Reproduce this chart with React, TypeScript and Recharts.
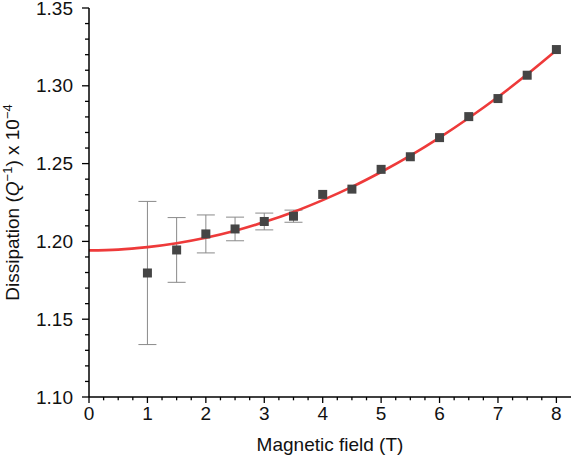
import React from "react";
import {
  ComposedChart,
  Line,
  Scatter,
  ErrorBar,
  XAxis,
  YAxis,
} from "recharts";

// measured points
const fieldT = [1, 1.5, 2, 2.5, 3, 3.5, 4, 4.5, 5, 5.5, 6, 6.5, 7, 7.5, 8];
const dissipation = [
  1.1797, 1.1945, 1.2048, 1.208, 1.2128, 1.2162, 1.2302, 1.2336, 1.2463,
  1.2544, 1.2667, 1.2802, 1.2918, 1.3068, 1.3233,
];
// error bars above 3.5 T are hidden behind the markers
const dissipationErr = [
  0.046, 0.0208, 0.0122, 0.0076, 0.0054, 0.0039, null, null, null, null,
  null, null, null, null, null,
];

// fit curve
const fitT = [0, 0.5, 1, 1.5, 2, 2.5, 3, 3.5, 4, 4.5, 5, 5.5, 6, 6.5, 7, 7.5, 8];
const fitValue = [
  1.1942, 1.1947, 1.1963, 1.1988, 1.2023, 1.2068, 1.2124, 1.2189, 1.2265,
  1.235, 1.2446, 1.2551, 1.2667, 1.2793, 1.2928, 1.3074, 1.3229,
];

const xTicks = [
  0, 0.25, 0.5, 0.75, 1, 1.25, 1.5, 1.75, 2, 2.25, 2.5, 2.75, 3, 3.25, 3.5,
  3.75, 4, 4.25, 4.5, 4.75, 5, 5.25, 5.5, 5.75, 6, 6.25, 6.5, 6.75, 7, 7.25,
  7.5, 7.75, 8,
];
const yTicks = [
  1.1, 1.11, 1.12, 1.13, 1.14, 1.15, 1.16, 1.17, 1.18, 1.19, 1.2, 1.21, 1.22,
  1.23, 1.24, 1.25, 1.26, 1.27, 1.28, 1.29, 1.3, 1.31, 1.32, 1.33, 1.34, 1.35,
];

const points = fieldT.map((x, i) => ({
  x,
  y: dissipation[i],
  err: dissipationErr[i],
}));
const fit = fitT.map((x, i) => ({ x, y: fitValue[i] }));

const FONT = '"Liberation Sans", Arial, Helvetica, sans-serif';

const XTick = (props: any) => {
  const { x, y, payload } = props;
  const v = payload.value;
  const major = Number.isInteger(v);
  return (
    <g>
      <line x1={x} y1={y} x2={x} y2={y + (major ? 6 : 3.3)} stroke="#000" strokeWidth={1.3} />
      {major && (
        <text x={x} y={y + 22.5} textAnchor="middle" fontSize={19} fontFamily={FONT} fill="#111">
          {v}
        </text>
      )}
    </g>
  );
};

const YTick = (props: any) => {
  const { x, y, payload } = props;
  const v = payload.value;
  const major = Math.round(v * 100) % 5 === 0;
  return (
    <g>
      <line x1={x} y1={y} x2={x - (major ? 7 : 4)} y2={y} stroke="#000" strokeWidth={1.3} />
      {major && (
        <text x={x - 16} y={y} dy="0.35em" textAnchor="end" fontSize={19} fontFamily={FONT} fill="#111">
          {v.toFixed(2)}
        </text>
      )}
    </g>
  );
};

const YLabel = (props: any) => {
  const vb = props.viewBox || {};
  const cy = vb.y + vb.height / 2;
  const cx = 19;
  return (
    <text
      x={cx}
      y={cy}
      transform={`rotate(-90, ${cx}, ${cy})`}
      textAnchor="middle"
      fontSize={19}
      fontFamily={FONT}
      fill="#111"
    >
      Dissipation (<tspan fontStyle="italic">Q</tspan>
      <tspan dy={-7} fontSize={13}>−1</tspan>
      <tspan dy={7}>) x 10</tspan>
      <tspan dy={-7} fontSize={13}>−4</tspan>
    </text>
  );
};

const XLabel = (props: any) => {
  const vb = props.viewBox || {};
  return (
    <text
      x={vb.x + vb.width / 2}
      y={451}
      textAnchor="middle"
      fontSize={19}
      fontFamily={FONT}
      fill="#111"
    >
      Magnetic field (T)
    </text>
  );
};

const Square = (props: any) => {
  const { cx, cy } = props;
  if (cx == null || cy == null) return null;
  return <rect x={cx - 4.5} y={cy - 4.5} width={9} height={9} fill="#454545" />;
};

export default function App() {
  return (
    <div style={{ position: "absolute", left: 0, top: 0, background: "#fff" }}>
      <ComposedChart
        width={573}
        height={461}
        margin={{ top: 8, right: 2, bottom: 0, left: 0 }}
      >
        <XAxis
          dataKey="x"
          type="number"
          domain={[0, 8.25]}
          ticks={xTicks}
          interval={0}
          tick={<XTick />}
          tickLine={false}
          tickSize={0}
          tickMargin={0}
          height={64}
          axisLine={{ stroke: "#000", strokeWidth: 1.5 }}
          allowDataOverflow
          label={<XLabel />}
        />
        <XAxis
          xAxisId="top"
          orientation="top"
          type="number"
          domain={[0, 8.25]}
          height={0}
          tick={false}
          tickLine={false}
          axisLine={{ stroke: "#000", strokeWidth: 1.5 }}
        />
        <YAxis
          dataKey="y"
          type="number"
          domain={[1.1, 1.35]}
          ticks={yTicks}
          interval={0}
          tick={<YTick />}
          tickLine={false}
          tickSize={0}
          tickMargin={0}
          width={89}
          axisLine={{ stroke: "#000", strokeWidth: 1.5 }}
          allowDataOverflow
          label={<YLabel />}
        />
        <YAxis
          yAxisId="right"
          orientation="right"
          type="number"
          domain={[1.1, 1.35]}
          width={0}
          tick={false}
          tickLine={false}
          axisLine={{ stroke: "#000", strokeWidth: 1.5 }}
        />
        <Scatter data={points} dataKey="y" shape={<Square />} isAnimationActive={false}>
          <ErrorBar dataKey="err" direction="y" width={9} stroke="#8a8a8a" strokeWidth={1} />
        </Scatter>
        <Line
          data={fit}
          dataKey="y"
          type="monotone"
          stroke="#ee3a3a"
          strokeWidth={2.6}
          dot={false}
          isAnimationActive={false}
        />
      </ComposedChart>
    </div>
  );
}
